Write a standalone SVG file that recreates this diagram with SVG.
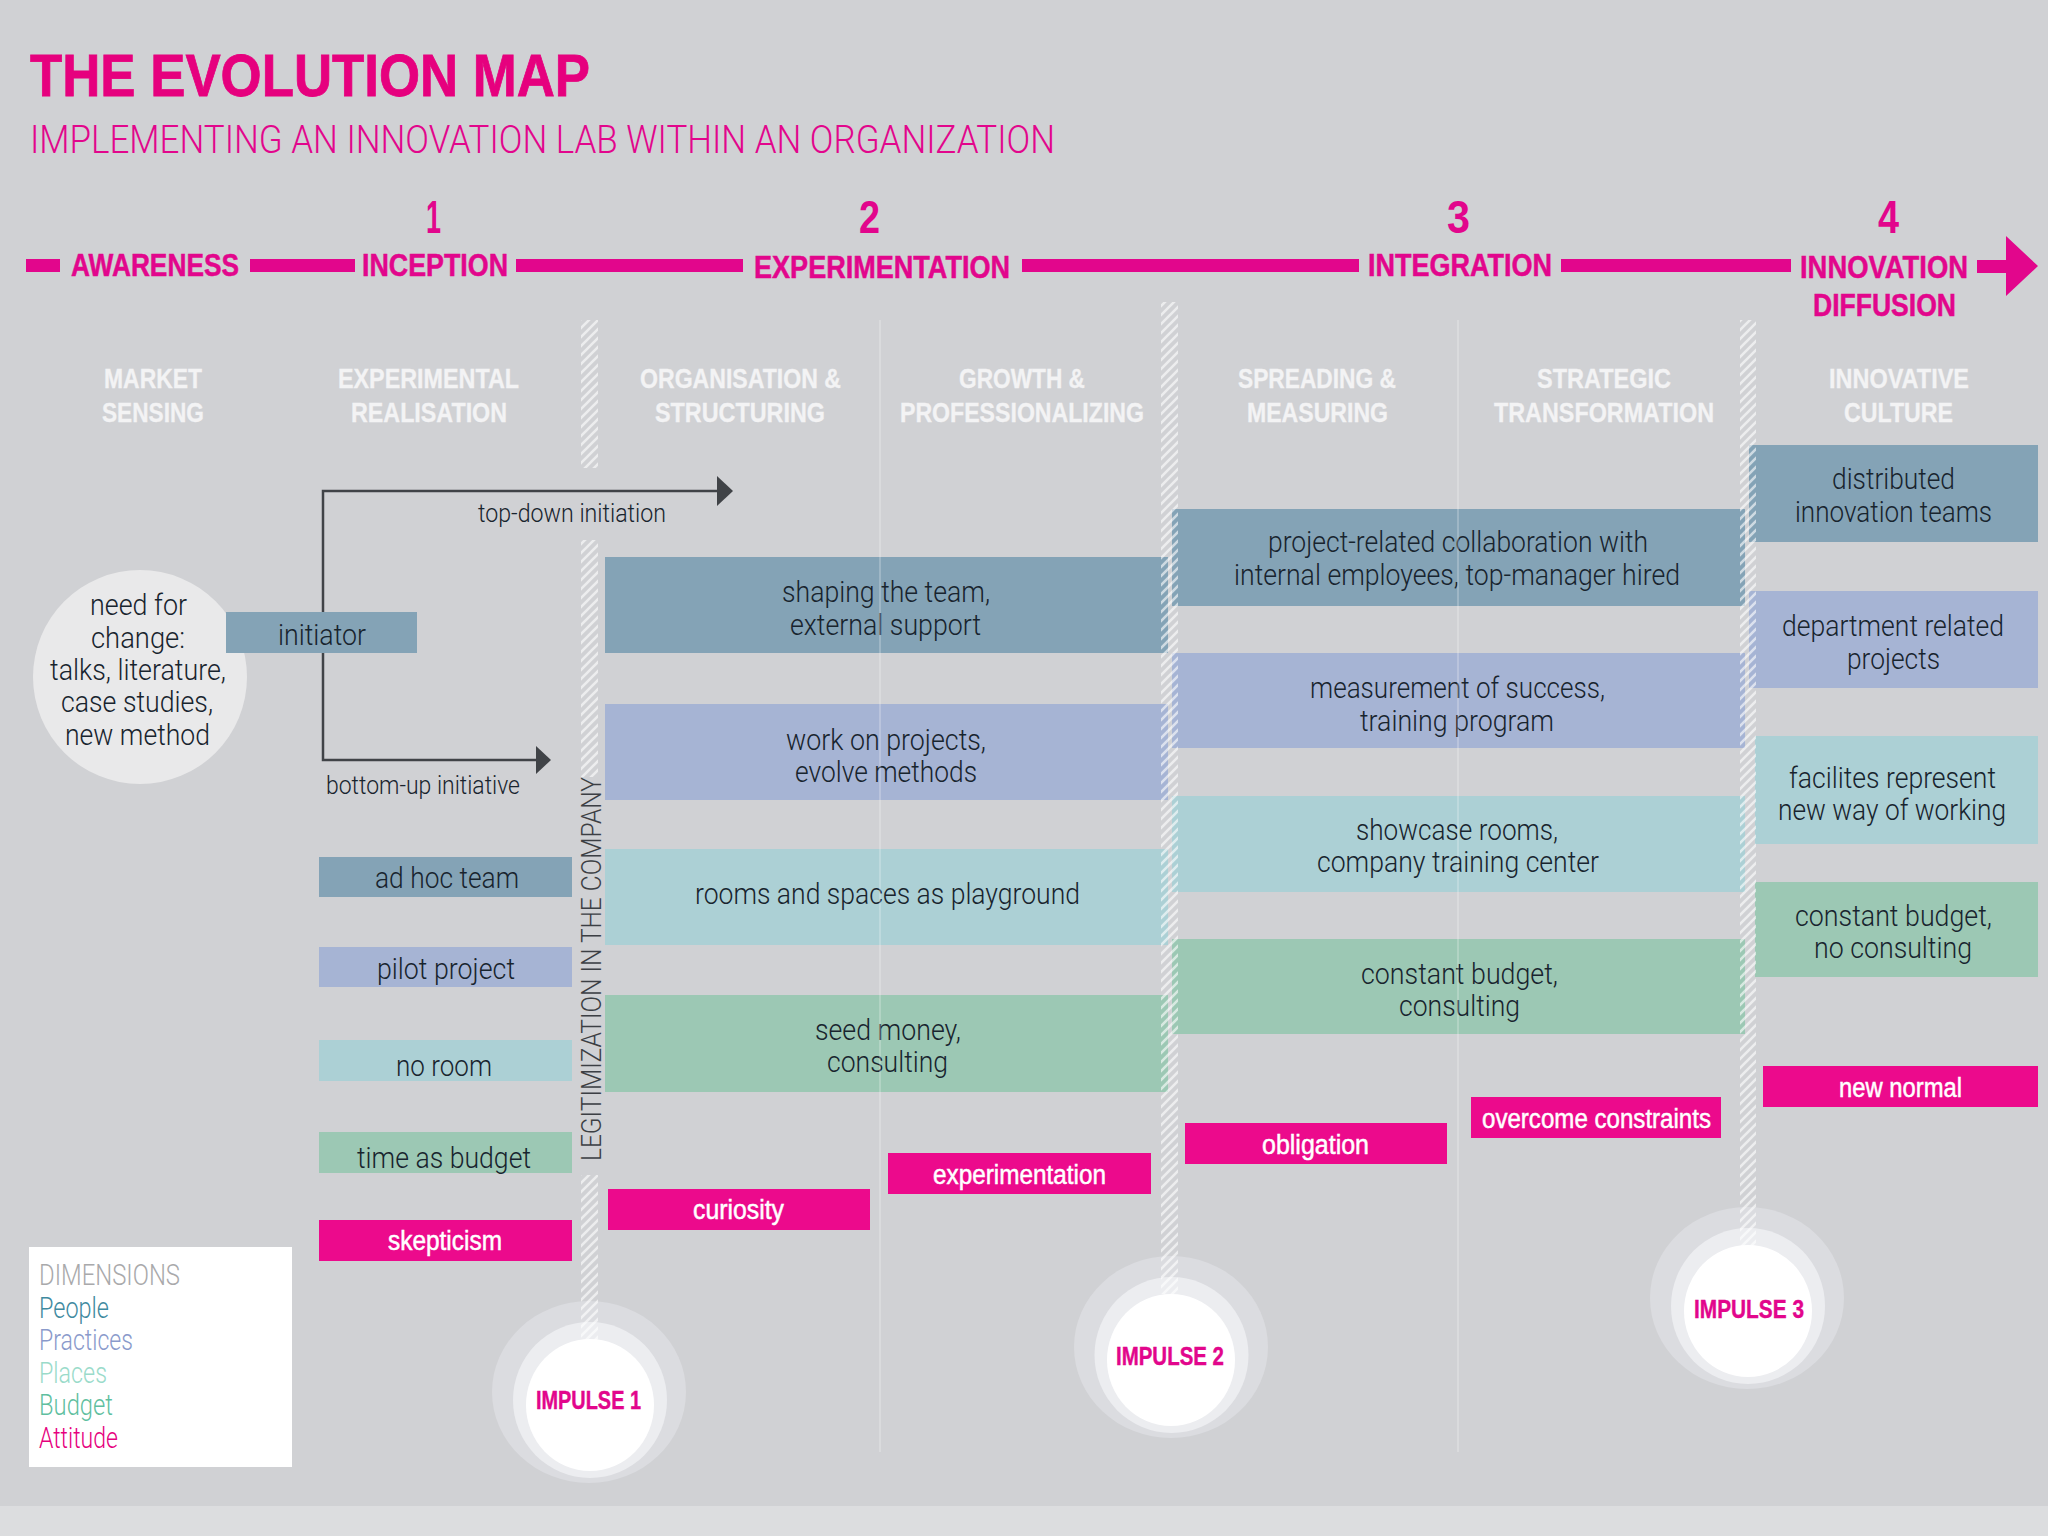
<svg xmlns="http://www.w3.org/2000/svg" width="2048" height="1536" viewBox="0 0 2048 1536">
<style>
text{font-family:"Liberation Sans",Arial,sans-serif}
.b{font-family:Roboto,"Liberation Sans",sans-serif;font-weight:300;font-size:29px;fill:#18242e}
.s{font-family:Roboto,"Liberation Sans",sans-serif;font-weight:300;font-size:25px;fill:#18242e}
.w{font-weight:400;font-size:27px;fill:#fff;stroke:#fff;stroke-width:.5}
.h{font-weight:700;font-size:27px;fill:#f3f3f4;stroke:#f3f3f4;stroke-width:.3}
.p{font-weight:700;font-size:31px;fill:#e2068c;stroke:#e2068c;stroke-width:.5}
.n{font-weight:700;font-size:47px;fill:#e2068c}
.i{font-weight:700;font-size:25px;fill:#e2068c;stroke:#e2068c;stroke-width:.4}
.l{font-family:Roboto,"Liberation Sans",sans-serif;font-weight:300;font-size:29px}
.pe{fill:#84a3b6}.pr{fill:#a6b4d4}.pl{fill:#acd0d5}.bu{fill:#9cc8b4}.at{fill:#ec0a8c}
.bar{fill:#e2068c}
.rule{stroke:#fff;stroke-opacity:.3;stroke-width:1.5;fill:none}
.c{stroke:#404347;stroke-width:2.5;fill:none}
.o{fill:#dbdce0}.m{fill:#ecedf0}.d{fill:#fff}
</style>
<defs>
<pattern id="hatch" patternUnits="userSpaceOnUse" width="9" height="9">
<path d="M-2,2L2,-2M0,9L9,0M7,11L11,7" stroke="#fff" stroke-opacity=".6" stroke-width="2.6" fill="none"/>
</pattern>
</defs>
<rect id="background" width="2048" height="1536" fill="#d0d1d4"/>
<rect y="1506" width="2048" height="30" fill="#dcdddf"/>

<g id="header">
<text x="30" y="96" font-size="60" font-weight="700" fill="#e6007e" stroke="#e6007e" stroke-width=".8" textLength="560" lengthAdjust="spacingAndGlyphs">THE EVOLUTION MAP</text>
<text x="30" y="153" font-size="38" fill="#e2068c" textLength="1025" lengthAdjust="spacingAndGlyphs" style="font-family:Roboto,'Liberation Sans',sans-serif;font-weight:300">IMPLEMENTING AN INNOVATION LAB WITHIN AN ORGANIZATION</text>
</g>

<g id="timeline">
<rect class="bar" x="26" y="259" width="34" height="13"/>
<rect class="bar" x="250" y="259" width="105" height="13"/>
<rect class="bar" x="516" y="259" width="227" height="13"/>
<rect class="bar" x="1022" y="259" width="337" height="13"/>
<rect class="bar" x="1561" y="259" width="230" height="13"/>
<path class="bar" d="M1977,260H2006V236L2038,266L2006,296V273H1977Z"/>
<text class="n" x="426" y="233" textLength="15" lengthAdjust="spacingAndGlyphs">1</text>
<text class="n" x="859" y="233" textLength="21" lengthAdjust="spacingAndGlyphs">2</text>
<text class="n" x="1447" y="233" textLength="23" lengthAdjust="spacingAndGlyphs">3</text>
<text class="n" x="1878" y="233" textLength="21" lengthAdjust="spacingAndGlyphs">4</text>
<text class="p" x="71" y="276" textLength="168" lengthAdjust="spacingAndGlyphs">AWARENESS</text>
<text class="p" x="362" y="276" textLength="146" lengthAdjust="spacingAndGlyphs">INCEPTION</text>
<text class="p" x="754" y="278" textLength="256" lengthAdjust="spacingAndGlyphs">EXPERIMENTATION</text>
<text class="p" x="1368" y="276" textLength="184" lengthAdjust="spacingAndGlyphs">INTEGRATION</text>
<text class="p" x="1800" y="278" textLength="168" lengthAdjust="spacingAndGlyphs">INNOVATION</text>
<text class="p" x="1813" y="316" textLength="143" lengthAdjust="spacingAndGlyphs">DIFFUSION</text>
</g>

<g id="column-heads">
<text class="h" x="104" y="388" textLength="98" lengthAdjust="spacingAndGlyphs">MARKET</text>
<text class="h" x="102" y="422" textLength="102" lengthAdjust="spacingAndGlyphs">SENSING</text>
<text class="h" x="338" y="388" textLength="181" lengthAdjust="spacingAndGlyphs">EXPERIMENTAL</text>
<text class="h" x="351" y="422" textLength="156" lengthAdjust="spacingAndGlyphs">REALISATION</text>
<text class="h" x="640" y="388" textLength="201" lengthAdjust="spacingAndGlyphs">ORGANISATION &amp;</text>
<text class="h" x="655" y="422" textLength="170" lengthAdjust="spacingAndGlyphs">STRUCTURING</text>
<text class="h" x="959" y="388" textLength="126" lengthAdjust="spacingAndGlyphs">GROWTH &amp;</text>
<text class="h" x="900" y="422" textLength="244" lengthAdjust="spacingAndGlyphs">PROFESSIONALIZING</text>
<text class="h" x="1238" y="388" textLength="158" lengthAdjust="spacingAndGlyphs">SPREADING &amp;</text>
<text class="h" x="1247" y="422" textLength="141" lengthAdjust="spacingAndGlyphs">MEASURING</text>
<text class="h" x="1537" y="388" textLength="134" lengthAdjust="spacingAndGlyphs">STRATEGIC</text>
<text class="h" x="1494" y="422" textLength="220" lengthAdjust="spacingAndGlyphs">TRANSFORMATION</text>
<text class="h" x="1829" y="388" textLength="140" lengthAdjust="spacingAndGlyphs">INNOVATIVE</text>
<text class="h" x="1844" y="422" textLength="109" lengthAdjust="spacingAndGlyphs">CULTURE</text>
</g>

<text id="legitimization" transform="translate(601,1161) rotate(-90)" font-size="27" fill="#3c3f44" textLength="384" lengthAdjust="spacingAndGlyphs" style="font-family:Roboto,'Liberation Sans',sans-serif;font-weight:300">LEGITIMIZATION IN THE COMPANY</text>

<g id="connectors">
<path class="c" d="M717,491H323V760H536"/>
<path d="M717,476L733,491L717,506Z" fill="#404347"/>
<path d="M536,746L551,760L536,774Z" fill="#404347"/>
</g>

<g id="need-for-change">
<circle cx="140" cy="677" r="107" fill="#e9e9ea"/>
<text class="b" x="90" y="615" textLength="97" lengthAdjust="spacingAndGlyphs">need for</text>
<text class="b" x="91" y="648" textLength="94" lengthAdjust="spacingAndGlyphs">change:</text>
<text class="b" x="50" y="680" textLength="176" lengthAdjust="spacingAndGlyphs">talks, literature,</text>
<text class="b" x="61" y="712" textLength="152" lengthAdjust="spacingAndGlyphs">case studies,</text>
<text class="b" x="65" y="745" textLength="145" lengthAdjust="spacingAndGlyphs">new method</text>
</g>
<g id="initiator"><rect class="pe" x="226" y="612" width="191" height="41"/><text class="b" x="278" y="645" textLength="88" lengthAdjust="spacingAndGlyphs">initiator</text></g>
<g id="top-down"><text class="s" x="478" y="522" textLength="188" lengthAdjust="spacingAndGlyphs">top-down initiation</text></g>
<g id="bottom-up"><text class="s" x="326" y="794" textLength="194" lengthAdjust="spacingAndGlyphs">bottom-up initiative</text></g>

<g id="ad-hoc-team"><rect class="pe" x="319" y="857" width="253" height="40"/><text class="b" x="375" y="888" textLength="144" lengthAdjust="spacingAndGlyphs">ad hoc team</text></g>
<g id="pilot-project"><rect class="pr" x="319" y="947" width="253" height="40"/><text class="b" x="377" y="979" textLength="138" lengthAdjust="spacingAndGlyphs">pilot project</text></g>
<g id="no-room"><rect class="pl" x="319" y="1040" width="253" height="41"/><text class="b" x="396" y="1076" textLength="96" lengthAdjust="spacingAndGlyphs">no room</text></g>
<g id="time-as-budget"><rect class="bu" x="319" y="1132" width="253" height="41"/><text class="b" x="357" y="1168" textLength="174" lengthAdjust="spacingAndGlyphs">time as budget</text></g>
<g id="skepticism"><rect class="at" x="319" y="1220" width="253" height="41"/><text class="w" x="388" y="1250" textLength="114" lengthAdjust="spacingAndGlyphs">skepticism</text></g>

<g id="shaping-team"><rect class="pe" x="605" y="557" width="563" height="96"/><text class="b" x="782" y="602" textLength="208" lengthAdjust="spacingAndGlyphs">shaping the team,</text><text class="b" x="790" y="635" textLength="191" lengthAdjust="spacingAndGlyphs">external support</text></g>
<g id="work-on-projects"><rect class="pr" x="605" y="704" width="563" height="96"/><text class="b" x="786" y="750" textLength="200" lengthAdjust="spacingAndGlyphs">work on projects,</text><text class="b" x="795" y="782" textLength="182" lengthAdjust="spacingAndGlyphs">evolve methods</text></g>
<g id="rooms-and-spaces"><rect class="pl" x="605" y="849" width="563" height="96"/><text class="b" x="695" y="904" textLength="385" lengthAdjust="spacingAndGlyphs">rooms and spaces as playground</text></g>
<g id="seed-money"><rect class="bu" x="605" y="995" width="563" height="97"/><text class="b" x="815" y="1040" textLength="146" lengthAdjust="spacingAndGlyphs">seed money,</text><text class="b" x="827" y="1072" textLength="121" lengthAdjust="spacingAndGlyphs">consulting</text></g>
<g id="curiosity"><rect class="at" x="608" y="1189" width="262" height="41"/><text class="w" x="693" y="1219" textLength="91" lengthAdjust="spacingAndGlyphs">curiosity</text></g>
<g id="experimentation"><rect class="at" x="888" y="1153" width="263" height="41"/><text class="w" x="933" y="1184" textLength="173" lengthAdjust="spacingAndGlyphs">experimentation</text></g>

<g id="project-related"><rect class="pe" x="1172" y="509" width="573" height="97"/><text class="b" x="1268" y="552" textLength="380" lengthAdjust="spacingAndGlyphs">project-related collaboration with</text><text class="b" x="1234" y="585" textLength="446" lengthAdjust="spacingAndGlyphs">internal employees, top-manager hired</text></g>
<g id="measurement"><rect class="pr" x="1172" y="653" width="573" height="95"/><text class="b" x="1310" y="698" textLength="295" lengthAdjust="spacingAndGlyphs">measurement of success,</text><text class="b" x="1360" y="731" textLength="194" lengthAdjust="spacingAndGlyphs">training program</text></g>
<g id="showcase"><rect class="pl" x="1172" y="796" width="573" height="96"/><text class="b" x="1356" y="840" textLength="202" lengthAdjust="spacingAndGlyphs">showcase rooms,</text><text class="b" x="1317" y="872" textLength="282" lengthAdjust="spacingAndGlyphs">company training center</text></g>
<g id="constant-budget-consulting"><rect class="bu" x="1172" y="939" width="573" height="95"/><text class="b" x="1361" y="984" textLength="197" lengthAdjust="spacingAndGlyphs">constant budget,</text><text class="b" x="1399" y="1016" textLength="121" lengthAdjust="spacingAndGlyphs">consulting</text></g>
<g id="obligation"><rect class="at" x="1185" y="1123" width="262" height="41"/><text class="w" x="1262" y="1154" textLength="107" lengthAdjust="spacingAndGlyphs">obligation</text></g>
<g id="overcome-constraints"><rect class="at" x="1471" y="1097" width="250" height="41"/><text class="w" x="1482" y="1128" textLength="229" lengthAdjust="spacingAndGlyphs">overcome constraints</text></g>

<g id="distributed"><rect class="pe" x="1749" y="445" width="289" height="97"/><text class="b" x="1832" y="489" textLength="123" lengthAdjust="spacingAndGlyphs">distributed</text><text class="b" x="1795" y="522" textLength="197" lengthAdjust="spacingAndGlyphs">innovation teams</text></g>
<g id="department-related"><rect class="pr" x="1749" y="591" width="289" height="97"/><text class="b" x="1782" y="636" textLength="222" lengthAdjust="spacingAndGlyphs">department related</text><text class="b" x="1847" y="669" textLength="93" lengthAdjust="spacingAndGlyphs">projects</text></g>
<g id="facilites"><rect class="pl" x="1755" y="736" width="283" height="108"/><text class="b" x="1789" y="788" textLength="207" lengthAdjust="spacingAndGlyphs">facilites represent</text><text class="b" x="1778" y="820" textLength="228" lengthAdjust="spacingAndGlyphs">new way of working</text></g>
<g id="constant-budget-no-consulting"><rect class="bu" x="1755" y="882" width="283" height="95"/><text class="b" x="1795" y="926" textLength="197" lengthAdjust="spacingAndGlyphs">constant budget,</text><text class="b" x="1814" y="958" textLength="158" lengthAdjust="spacingAndGlyphs">no consulting</text></g>
<g id="new-normal"><rect class="at" x="1763" y="1066" width="275" height="41"/><text class="w" x="1839" y="1097" textLength="123" lengthAdjust="spacingAndGlyphs">new normal</text></g>

<g id="legend">
<rect x="29" y="1247" width="263" height="220" fill="#fff"/>
<text class="l" x="39" y="1285" fill="#a9a9ab" textLength="141" lengthAdjust="spacingAndGlyphs">DIMENSIONS</text>
<text class="l" x="39" y="1318" fill="#3f8aa0" textLength="70" lengthAdjust="spacingAndGlyphs">People</text>
<text class="l" x="39" y="1350" fill="#8a9acb" textLength="94" lengthAdjust="spacingAndGlyphs">Practices</text>
<text class="l" x="39" y="1383" fill="#9adbca" textLength="68" lengthAdjust="spacingAndGlyphs">Places</text>
<text class="l" x="39" y="1415" fill="#5fbf9f" textLength="74" lengthAdjust="spacingAndGlyphs">Budget</text>
<text class="l" x="39" y="1448" fill="#e6007e" textLength="79" lengthAdjust="spacingAndGlyphs">Attitude</text>
</g>

<g id="impulse-1"><ellipse class="o" cx="589" cy="1392" rx="97" ry="91"/><ellipse class="m" cx="590" cy="1400" rx="77" ry="78"/><ellipse class="d" cx="590" cy="1405" rx="64" ry="66"/><text class="i" x="536" y="1409" textLength="105" lengthAdjust="spacingAndGlyphs">IMPULSE 1</text></g>
<g id="impulse-2"><ellipse class="o" cx="1171" cy="1347" rx="97" ry="91"/><ellipse class="m" cx="1171.500" cy="1355" rx="77" ry="78"/><ellipse class="d" cx="1171" cy="1360" rx="64" ry="66"/><text class="i" x="1116" y="1365" textLength="108" lengthAdjust="spacingAndGlyphs">IMPULSE 2</text></g>
<g id="impulse-3"><ellipse class="o" cx="1747" cy="1298" rx="97" ry="91"/><ellipse class="m" cx="1748" cy="1306" rx="77" ry="78"/><ellipse class="d" cx="1748" cy="1311" rx="64" ry="66"/><text class="i" x="1694" y="1318" textLength="110" lengthAdjust="spacingAndGlyphs">IMPULSE 3</text></g>

<g id="dividers">
<line class="rule" x1="880" y1="320" x2="880" y2="1452"/>
<line class="rule" x1="1458" y1="320" x2="1458" y2="1452"/>
<rect x="581" y="320" width="17" height="148" fill="url(#hatch)"/>
<rect x="581" y="540" width="17" height="237" fill="url(#hatch)"/>
<rect x="581" y="1175" width="17" height="165" fill="url(#hatch)"/>
<rect x="1161" y="302" width="17" height="992" fill="url(#hatch)"/>
<rect x="1740" y="320" width="16" height="926" fill="url(#hatch)"/>
</g>
</svg>
